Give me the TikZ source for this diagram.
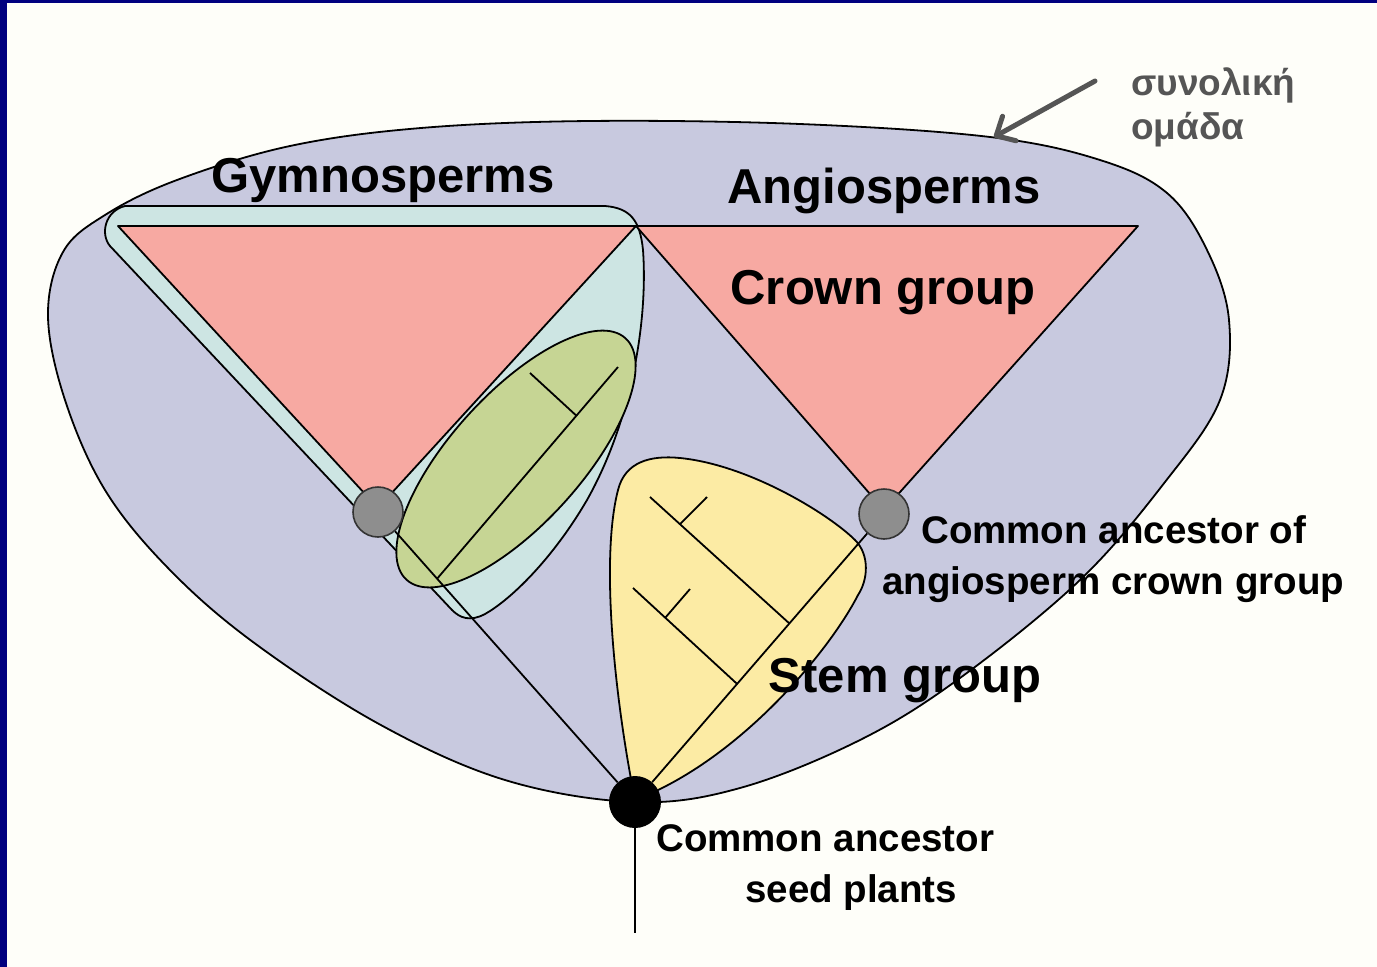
\documentclass[tikz,border=0pt]{standalone}
\usepackage{fontspec}
\setmainfont{Liberation Sans}
\usetikzlibrary{arrows.meta,calc}
\definecolor{navy}{HTML}{00007F}
\definecolor{bgc}{HTML}{FEFEF9}
\definecolor{lav}{HTML}{C8C9DF}
\definecolor{salmon}{HTML}{F7A9A2}
\definecolor{lblue}{HTML}{CDE5E3}
\definecolor{olive}{HTML}{C6D594}
\definecolor{yel}{HTML}{FCEBA4}
\definecolor{ancgray}{HTML}{8E8E8E}
\definecolor{txtgray}{HTML}{555555}
\begin{document}
\begin{tikzpicture}[x=1pt,y=-1pt,
  outl/.style={draw=black,line width=1.8pt,line join=round},
  branch/.style={draw=black,line width=1.8pt},
  ancnode/.style={circle,draw=black!80,line width=1.6pt,fill=ancgray,minimum size=50pt,inner sep=0pt},
  rootnode/.style={circle,fill=black,minimum size=52pt,inner sep=0pt},
  labbig/.style={font=\fontsize{49}{55}\selectfont\bfseries,inner sep=0pt},
  labmid/.style={font=\fontsize{38.5}{44}\selectfont\bfseries,inner sep=0pt},
  labgreek/.style={font=\fontsize{37}{44}\selectfont\bfseries,text=txtgray,inner sep=0pt},
  pointer/.style={draw=txtgray,line width=5pt,line cap=round,-{Straight Barb[length=15pt,width=28pt,round]}}
]
\useasboundingbox (0,0) rectangle (1377,967);
\fill[bgc] (0,0) rectangle (1377,967);
\fill[navy] (0,0) rectangle (7,967);
\fill[navy] (0,0) rectangle (1377,3);

% total group (outer)
\path[outl,fill=lav] plot[smooth cycle,tension=0.6] coordinates {
 (635,802) (505,780) (379,724) (253,642) (168,568) (105,490) (65,400) (48,316)
 (63,252) (105,215) (177,180) (290,146) (421,128) (589,121) (800,124) (990,137)
 (1100,160) (1167,193) (1207,250) (1229,320) (1220,400) (1165,482) (1080,580)
 (960,678) (860,740) (740,788)};

% gymnosperm envelope
\path[outl,fill=lblue] (125,206) -- (605,206) .. controls (630,208) and (640,220) .. (643,250)
  .. controls (648,320) and (632,420) .. (587,500)
  .. controls (552,560) and (510,600) .. (485,614)
  .. controls (470,622) and (460,618) .. (452,610)
  -- (110,246) .. controls (100,234) and (105,211) .. (125,206) -- cycle;

% crown group triangles
\path[outl,fill=salmon] (118,226) -- (636,226) -- (378,508) -- cycle;
\path[outl,fill=salmon] (636,226) -- (1138,226) -- (884,510) -- cycle;

% gymnosperm stem ellipse
\path[outl,fill=olive,rotate around={47.8:(516,459)}] (516,459) ellipse [x radius=163, y radius=65];

% stem group region
\path[outl,fill=yel] (635,800) .. controls (615,700) and (600,560) .. (618,490)
  .. controls (625,462) and (650,455) .. (680,458)
  .. controls (750,465) and (830,515) .. (855,540)
  .. controls (870,555) and (868,580) .. (858,595)
  .. controls (830,650) and (740,760) .. (635,800) -- cycle;

% ancestors
\node[ancnode] (gA) at (378,512) {};
\node[ancnode] (aA) at (884,514) {};
\node[rootnode] (root) at (635,802) {};
\coordinate (stemend) at (635,933);

% lineages
\draw[branch] (root) -- (gA);
\draw[branch] (root) -- (aA);
\draw[branch] (root) -- (stemend);

% tree in ellipse
\coordinate (g0) at ($(root.center)!0.77!(gA.center)$);
\coordinate (g1) at (618,367);
\coordinate (g2) at ($(g0)!0.77!(g1)$);
\coordinate (g3) at (530,373);
\draw[branch] (g0) -- (g1);
\draw[branch] (g2) -- (g3);

% tree in stem group
\coordinate (y0) at ($(root.center)!0.62!(aA.center)$);
\coordinate (y0e) at (650,497);
\coordinate (y0t) at ($(y0)!0.785!(y0e)$);
\coordinate (y0te) at (707,497);
\coordinate (y1) at ($(root.center)!0.41!(aA.center)$);
\coordinate (y1e) at (633,588);
\coordinate (y1t) at ($(y1)!0.69!(y1e)$);
\coordinate (y1te) at (690,589);
\draw[branch] (y0) -- (y0e);
\draw[branch] (y0t) -- (y0te);
\draw[branch] (y1) -- (y1e);
\draw[branch] (y1t) -- (y1te);

% labels
\node[labbig,anchor=base] (gym) at (383,192) {Gymnosperms};
\node[labbig,anchor=base] (ang) at (884,203) {Angiosperms};
\node[labbig,anchor=base] (crown) at (883,304) {Crown group};
\node[labbig,anchor=base] (stem) at (905,692) {Stem group};
\node[labmid,anchor=base west] (caa1) at (921,543) {Common ancestor of};
\node[labmid,anchor=base west] (caa2) at (882,594) {angiosperm crown group};
\node[labmid,anchor=base west] (cas1) at (656,851) {Common ancestor};
\node[labmid,anchor=base west] (cas2) at (745,902) {seed plants};
\node[labgreek,anchor=base west] (gr1) at (1131,95) {συνολική};
\node[labgreek,anchor=base west] (gr2) at (1131,139) {ομάδα};

% pointer
\coordinate (arrtail) at (1095,81);
\coordinate (arrtip) at (994,137);
\draw[pointer] (arrtail) -- (arrtip);
\end{tikzpicture}
\end{document}
